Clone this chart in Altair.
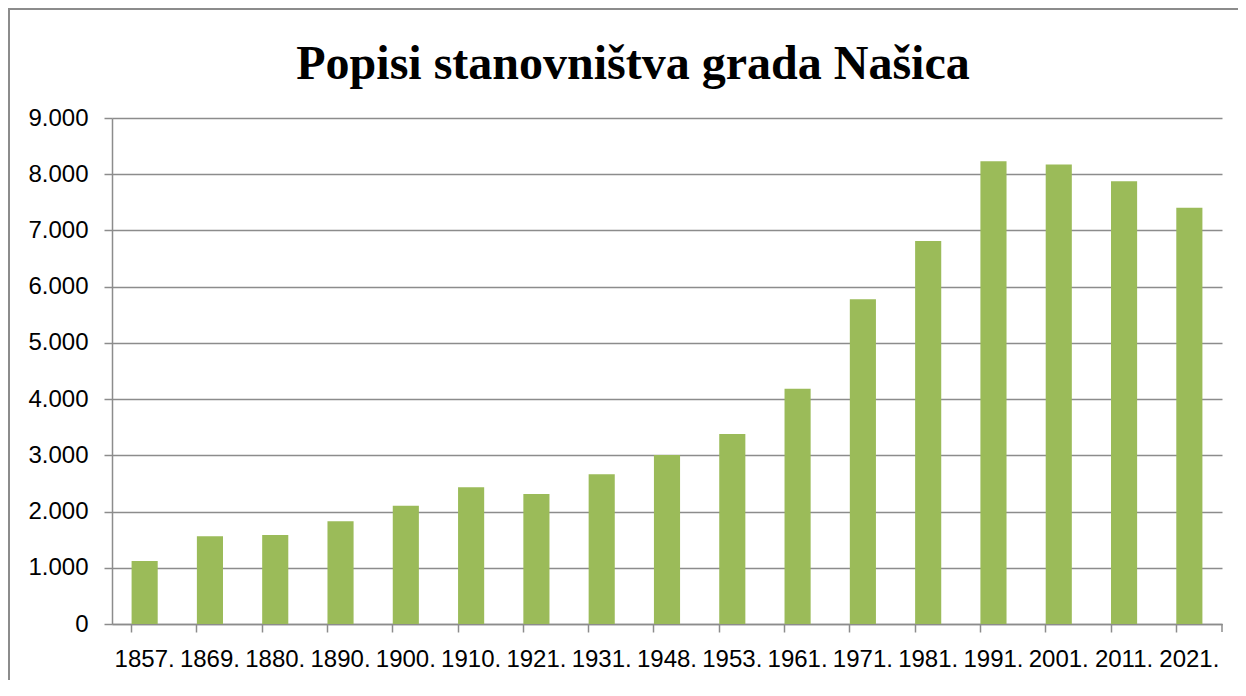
import altair as alt
import pandas as pd

years = ["1857.", "1869.", "1880.", "1890.", "1900.", "1910.", "1921.", "1931.", "1948.",
         "1953.", "1961.", "1971.", "1981.", "1991.", "2001.", "2011.", "2021."]
population = [1121, 1559, 1583, 1826, 2105, 2431, 2312, 2662, 3005,
              3379, 4183, 5775, 6811, 8231, 8172, 7876, 7402]
y_ticks = [0, 1000, 2000, 3000, 4000, 5000, 6000, 7000, 8000, 9000]
title_text = "Popisi stanovništva grada Našica"

df = pd.DataFrame({"godina": years, "stanovnici": population})

W, H = 1110, 506
GRAY = "#8c8c8c"
FONT = "Liberation Sans"

bars = alt.Chart(df).mark_bar(color="#9BBB59").encode(
    x=alt.X("godina:N", sort=years, title=None,
            scale=alt.Scale(paddingInner=0.6, paddingOuter=0.3),
            axis=alt.Axis(bandPosition=0,
                          labelAngle=0, labelFont=FONT, labelFontSize=24,
                          labelColor="black", labelPadding=15,
                          domainColor=GRAY, domainWidth=1.5,
                          tickColor=GRAY, tickWidth=1.5, tickSize=8,
                          grid=False)),
    y=alt.Y("stanovnici:Q", title=None,
            scale=alt.Scale(domain=[0, 9000], nice=False),
            axis=alt.Axis(values=y_ticks,
                          labelExpr="replace(format(datum.value, ','), ',', '.')",
                          labelFont=FONT, labelFontSize=24, labelColor="black",
                          labelPadding=16, domainColor=GRAY, domainWidth=1.5,
                          tickColor=GRAY, tickWidth=1.5, tickSize=8,
                          grid=True, gridColor=GRAY, gridWidth=1.5)),
)

one = pd.DataFrame({"a": [0]})
end_tick = alt.Chart(one).mark_rule(color=GRAY, strokeWidth=1.5).encode(
    x=alt.value(W), y=alt.value(H), y2=alt.value(H + 8))
border_left = alt.Chart(one).mark_rule(color=GRAY, strokeWidth=2).encode(
    x=alt.value(-103), y=alt.value(-109), y2=alt.value(H + 100))
border_top = alt.Chart(one).mark_rule(color=GRAY, strokeWidth=2).encode(
    x=alt.value(-104), x2=alt.value(W + 40), y=alt.value(-109))

chart = alt.layer(bars, end_tick, border_left, border_top).properties(
    width=W, height=H,
    autosize="none",
    padding={"left": 104, "top": 110, "right": 16, "bottom": 56},
    title=alt.TitleParams(title_text, font="Liberation Serif", fontSize=48,
                          fontWeight="bold", color="black", anchor="middle",
                          frame="group", dx=-34, baseline="alphabetic",
                          offset=0, dy=119),
).configure(background="white", view=alt.ViewConfig(stroke=None))

chart.save("out.html", embed_options={"renderer": "svg", "actions": False})
